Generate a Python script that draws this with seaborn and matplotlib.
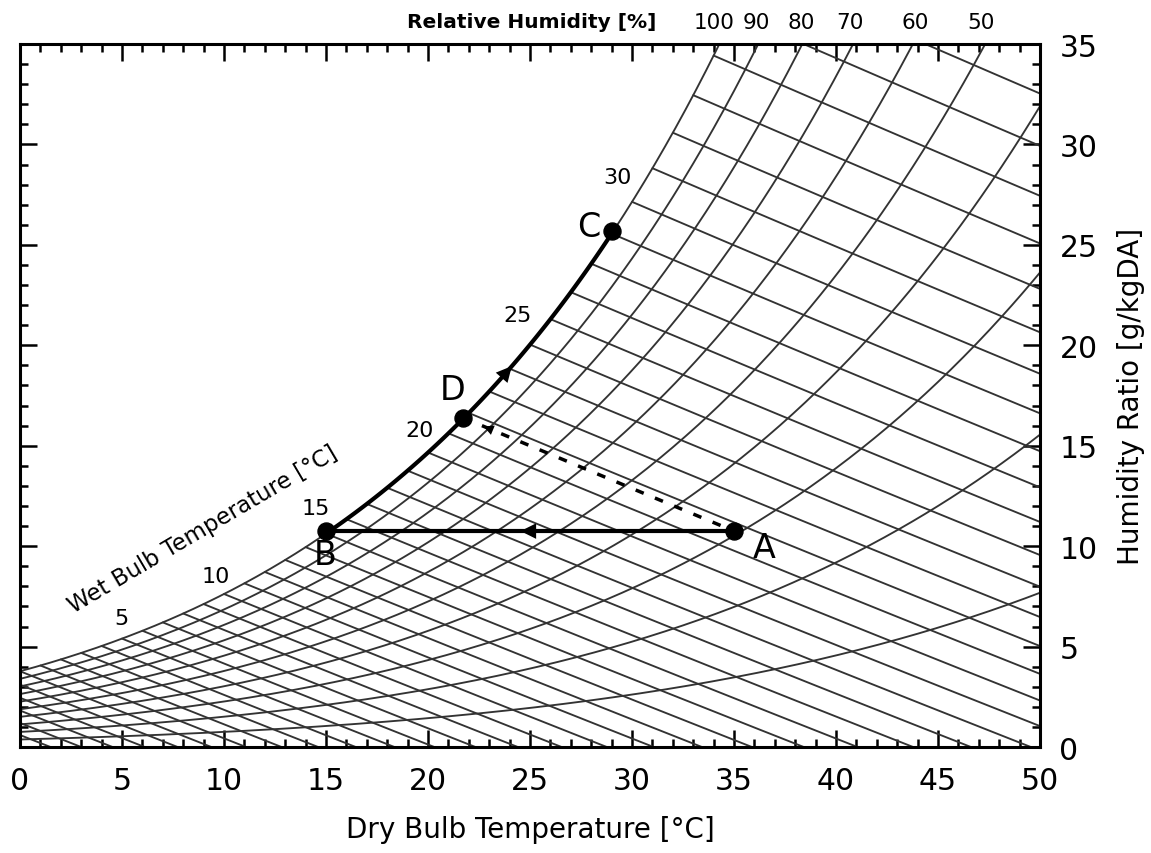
import numpy as np
import pandas as pd
import matplotlib
matplotlib.use("Agg")
import matplotlib.pyplot as plt
import seaborn as sns

# ---------------- data ----------------
rh_levels = [10, 20, 30, 40, 50, 60, 70, 80, 90, 100]          # %
wet_bulb_levels = list(range(-8, 46))                            # degC, 1 degC steps
wb_label_values = [5, 10, 15, 20, 25, 30]
wb_label_x = [4.95, 9.6, 14.5, 19.6, 24.4, 29.3]
wb_label_y = [6.4, 8.5, 11.9, 15.8, 21.5, 28.4]
rh_top_labels = ["100", "90", "80", "70", "60", "50"]
rh_top_x = [34.0, 36.1, 38.3, 40.7, 43.9, 47.1]

point_names = ["A", "B", "C", "D"]
point_T = [35.0, 15.0, 29.0, 21.7]          # dry bulb degC
point_W = [10.75, 10.75, 25.7, 16.4]        # g/kgDA
label_x = [36.5, 14.95, 27.9, 21.2]
label_y = [9.95, 9.6, 25.9, 17.8]

x_ticks = list(range(0, 51, 5))
y_ticks = list(range(0, 36, 5))

P = 101.325  # kPa


def pws(T):
    return 0.61094 * np.exp(17.625 * T / (T + 243.04))


def w_rh(T, rh):
    pv = rh / 100.0 * pws(T)
    return 622.0 * pv / (P - pv)


def w_wb(T, Twb):
    ws = w_rh(Twb, 100) / 1000.0
    w = ((2501 - 2.326 * Twb) * ws - 1.006 * (T - Twb)) / (2501 + 1.86 * T - 4.186 * Twb)
    return w * 1000.0


# build long tables of curves
rows = []
Tgrid = np.linspace(0, 50, 401)
for rh in rh_levels:
    for T in Tgrid:
        rows.append(("rh%d" % rh, T, w_rh(T, rh)))
for twb in wet_bulb_levels:
    Ts = np.linspace(max(twb, 0), 50, 300)
    for T in Ts:
        w = w_wb(T, twb)
        if w >= -0.5:
            rows.append(("wb%d" % twb, T, w))
curves = pd.DataFrame(rows, columns=["curve", "T", "W"])

# ---------------- figure ----------------
sns.set_style("white")
plt.rcParams["font.family"] = ["DejaVu Sans"]
plt.rcParams["text.color"] = "black"
plt.rcParams["axes.labelcolor"] = "black"
plt.rcParams["xtick.color"] = "black"
plt.rcParams["ytick.color"] = "black"
fig = plt.figure(figsize=(11.51, 8.54), dpi=100)
ax = fig.add_axes([0.0174, 0.1241, 0.8862, 0.8232])

sns.lineplot(data=curves, x="T", y="W", units="curve", estimator=None,
             color="#333333", lw=1.35, ax=ax, sort=False, legend=False)

# process lines
A, B, C, D = [(point_T[i], point_W[i]) for i in range(4)]
ax.plot([A[0], B[0]], [A[1], B[1]], color="black", lw=3, solid_capstyle="butt")
Tsat = np.linspace(B[0], C[0], 100)
ax.plot(Tsat, w_rh(Tsat, 100), color="black", lw=3)
ax.plot([D[0], A[0]], [D[1], A[1]], color="black", lw=2.5, ls=(0, (2.5, 3.5)))

# arrows
arr = dict(arrowstyle="-|>", color="black", lw=0, mutation_scale=28)
ax.annotate("", xy=(24.4, A[1]), xytext=(25.0, A[1]), arrowprops=arr)
ax.annotate("", xy=(24.2, w_rh(24.2, 100)), xytext=(23.6, w_rh(23.6, 100)), arrowprops=arr)
dx, dy = D[0] - A[0], D[1] - A[1]
ax.annotate("", xy=(22.6, D[1] + dy * (22.6 - D[0]) / dx),
            xytext=(23.2, D[1] + dy * (23.2 - D[0]) / dx),
            arrowprops=dict(arrowstyle="-|>", color="black", lw=0, mutation_scale=18))

ax.scatter(point_T, point_W, s=150, color="black", zorder=5)
for n, lx, ly in zip(point_names, label_x, label_y):
    ax.text(lx, ly, n, fontsize=24, ha="center", va="center", color="black")

for v, lx, ly in zip(wb_label_values, wb_label_x, wb_label_y):
    ax.text(lx, ly, str(v), fontsize=16, ha="center", va="center")
ax.text(8.97, 10.85, "Wet Bulb Temperature [°C]", fontsize=16.5, rotation=30.5,
        ha="center", va="center", rotation_mode="anchor")

# top relative humidity labels
ax.text(25.1, 36.1, "Relative Humidity [%]", fontsize=14.5, ha="center", va="center",
        fontweight="semibold", clip_on=False)
for s, lx in zip(rh_top_labels, rh_top_x):
    ax.text(lx, 36.1, s, fontsize=15.5, ha="center", va="center", clip_on=False)

ax.set_xlim(0, 50)
ax.set_ylim(0, 35)
ax.set_xticks(x_ticks)
ax.set_yticks(y_ticks)
ax.set_xticks(np.arange(0, 51, 1), minor=True)
ax.set_yticks(np.arange(0, 36, 1), minor=True)
ax.tick_params(which="both", direction="in", top=True, bottom=True, left=True, right=True,
               labelleft=False, labelright=True, labeltop=False, labelbottom=True,
               color="black", width=1.8, labelcolor="black")
ax.tick_params(which="major", length=12, labelsize=21.5, pad=14)
ax.tick_params(which="minor", length=6)
ax.yaxis.set_label_position("right")
ax.set_xlabel("Dry Bulb Temperature [°C]", fontsize=20, labelpad=14, color="black")
ax.set_ylabel("Humidity Ratio [g/kgDA]", fontsize=20, labelpad=14, color="black")
for s in ax.spines.values():
    s.set_linewidth(2.2)
    s.set_color("black")
    s.set_visible(True)

fig.savefig("out.png", dpi=100)
